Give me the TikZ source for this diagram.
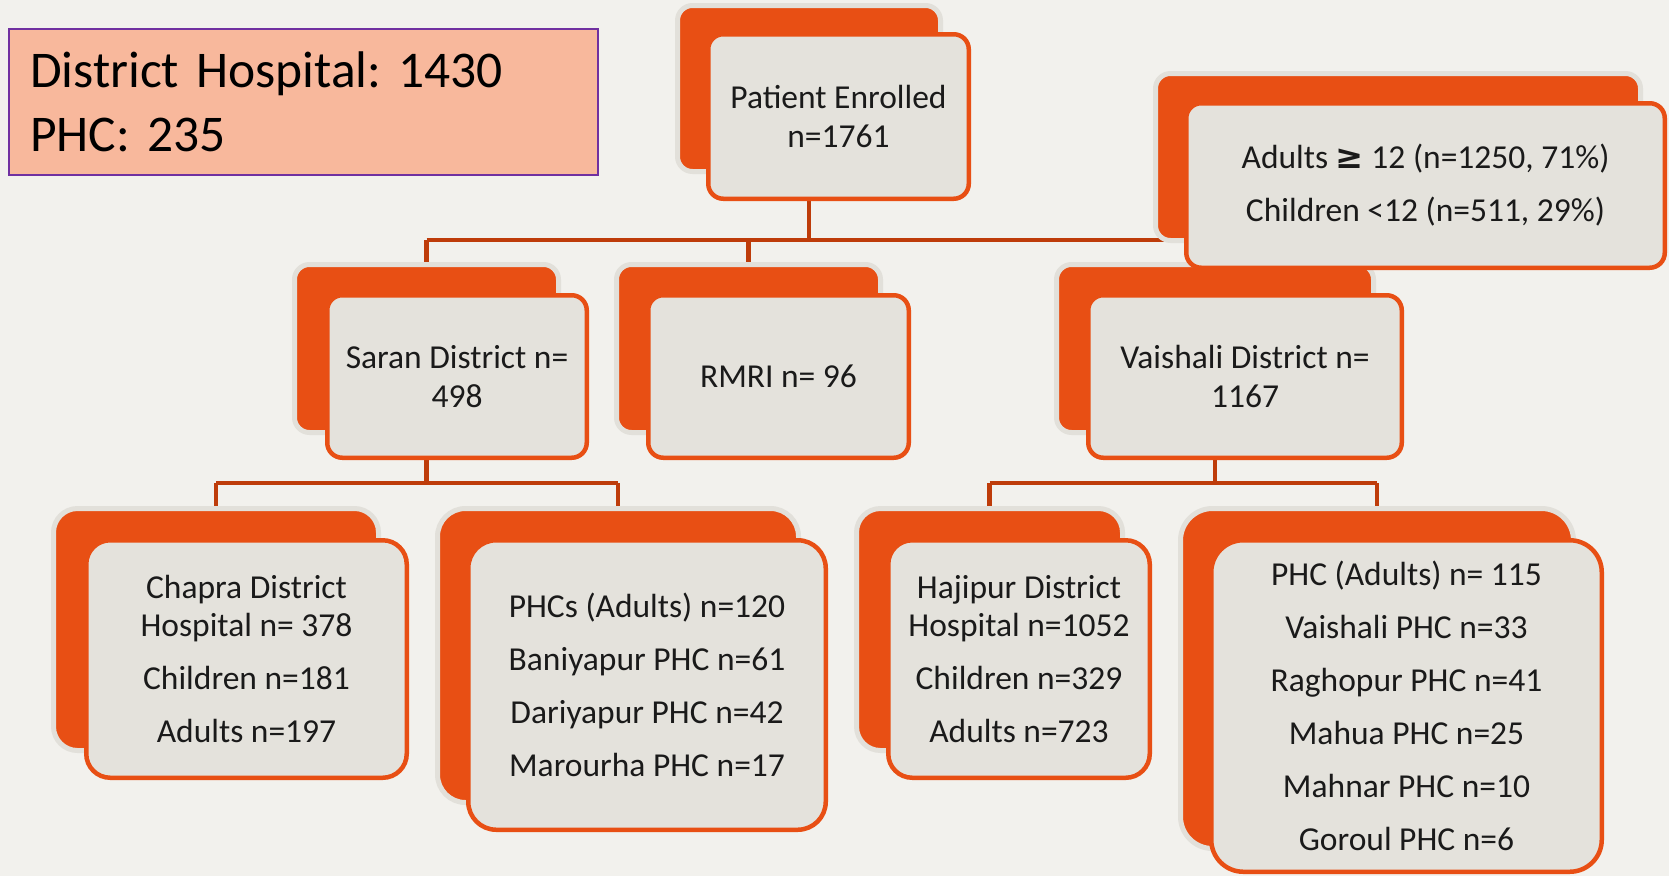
\documentclass[tikz,border=0pt]{standalone}
\usepackage{fontspec}
\setmainfont{Carlito}
\newfontfamily\symfont{DejaVu Sans}
\frenchspacing
\pgfdeclarelayer{bg}
\pgfsetlayers{bg,main}
\definecolor{bgcol}{HTML}{F2F1ED}
\definecolor{boxfill}{HTML}{E4E2DC}
\definecolor{orng}{HTML}{E84F14}
\definecolor{halo}{HTML}{E2E0DA}
\definecolor{conncol}{HTML}{BE3C0A}
\definecolor{salmon}{HTML}{F8B89C}
\definecolor{purp}{HTML}{7030A0}
\definecolor{txt}{HTML}{1A1A1A}
\tikzset{
  backbox/.style={rectangle, fill=orng, draw=halo, line width=5pt, inner sep=0pt, outer sep=0pt},
  frontbox/.style={rectangle, fill=boxfill, draw=orng, line width=4.5pt, inner sep=0pt, outer sep=0pt,
    align=center, text=txt, font=\fontsize{33.5}{38.5}\selectfont\frenchspacing},
  conn/.style={draw=conncol, line width=4.5pt},
  summarybox/.style={rectangle, fill=salmon, draw=purp, line width=2pt, inner xsep=21.5pt, inner ysep=0pt,
    outer sep=0pt, text width=546.5pt, align=left, minimum height=146pt, text=black,
    font=\fontsize{51.5}{64}\selectfont\frenchspacing}
}
\begin{document}
\begin{tikzpicture}[x=1pt,y=-1pt]
\useasboundingbox (0,0) rectangle (1669,876);

% summary
\node[summarybox] (sum) at (303.25,101.65) {District Hospital: 1430\\PHC: 235};

% level 0
\node[backbox, minimum width=263pt, minimum height=166pt, rounded corners=15pt] (peB) at (809,88.5) {};
\node[frontbox, minimum width=260.5pt, minimum height=164.5pt, rounded corners=15pt] (pe) at (838.5,116.5) {Patient Enrolled\\n=1761};

% level 1
\node[backbox, minimum width=264pt, minimum height=168pt, rounded corners=15pt] (saranB) at (426.5,348.5) {};
\node[frontbox, minimum width=259.5pt, minimum height=162.5pt, rounded corners=15pt] (saran) at (457,376.5) {Saran District n=\\498};

\node[backbox, minimum width=264pt, minimum height=168pt, rounded corners=15pt] (rmriB) at (748.5,348.5) {};
\node[frontbox, minimum width=260.5pt, minimum height=162.5pt, rounded corners=15pt] (rmri) at (778.5,376.5) {RMRI n= 96};

\node[backbox, minimum width=317pt, minimum height=168pt, rounded corners=15pt] (vaisB) at (1215,348.5) {};
\node[frontbox, minimum width=313.5pt, minimum height=162.5pt, rounded corners=15pt] (vais) at (1245,376.5) {Vaishali District n=\\1167};

% age box
\node[backbox, minimum width=485pt, minimum height=167pt, rounded corners=15pt] (ageB) at (1398,157) {};
\node[frontbox, minimum width=478.5pt, minimum height=164.5pt, rounded corners=15pt] (age) at (1425.5,185.5) {Adults {\symfont\bfseries ≥} 12 (n=1250, 71\%)\\[14.5pt]Children <12 (n=511, 29\%)};

% level 2
\node[backbox, minimum width=325pt, minimum height=242pt, rounded corners=24pt] (chapB) at (216,629.5) {};
\node[frontbox, minimum width=320.5pt, minimum height=237.5pt, rounded corners=24pt] (chap) at (246.5,659) {Chapra District\\Hospital n= 378\\[14.5pt]Children n=181\\[14.5pt]Adults n=197};

\node[backbox, minimum width=361pt, minimum height=294pt, rounded corners=28pt] (sphcB) at (618,655.5) {};
\node[frontbox, minimum width=357.5pt, minimum height=289.5pt, rounded corners=28pt] (sphc) at (647,685) {PHCs (Adults) n=120\\[14.5pt]Baniyapur PHC n=61\\[14.5pt]Dariyapur PHC n=42\\[14.5pt]Marourha PHC n=17};

\node[backbox, minimum width=266pt, minimum height=242pt, rounded corners=24pt] (hajB) at (989.5,629.5) {};
\node[frontbox, minimum width=261.5pt, minimum height=237.5pt, rounded corners=24pt] (haj) at (1019,659) {Hajipur District\\Hospital n=1052\\[14.5pt]Children n=329\\[14.5pt]Adults n=723};

\node[backbox, minimum width=393pt, minimum height=340pt, rounded corners=32pt] (vphcB) at (1377,678.5) {};
\node[frontbox, minimum width=390.5pt, minimum height=331.5pt, rounded corners=32pt] (vphc) at (1406.5,706) {PHC (Adults) n= 115\\[14.5pt]Vaishali PHC n=33\\[14.5pt]Raghopur PHC n=41\\[14.5pt]Mahua PHC n=25\\[14.5pt]Mahnar PHC n=10\\[14.5pt]Goroul PHC n=6};

\coordinate (bus1) at (0,240);
\coordinate (bus2) at (0,483);

\begin{pgfonlayer}{bg}
\fill[bgcol] (0,0) rectangle (1669,876);
% level 0 -> 1
\draw[conn] (peB.center |- pe.south) -- (peB.center |- bus1);
\draw[conn] (saranB.north |- bus1) -- (vaisB.north |- bus1);
\draw[conn] (saranB.north |- bus1) -- (saranB.north);
\draw[conn] (rmriB.north |- bus1) -- (rmriB.north);
\draw[conn] (vaisB.north |- bus1) -- (vaisB.north);
% Saran -> children
\draw[conn] (saranB.center |- saran.south) -- (saranB.center |- bus2);
\draw[conn] (chapB.north |- bus2) -- (sphcB.north |- bus2);
\draw[conn] (chapB.north |- bus2) -- (chapB.north);
\draw[conn] (sphcB.north |- bus2) -- (sphcB.north);
% Vaishali -> children
\draw[conn] (vaisB.center |- vais.south) -- (vaisB.center |- bus2);
\draw[conn] (hajB.north |- bus2) -- (vphcB.north |- bus2);
\draw[conn] (hajB.north |- bus2) -- (hajB.north);
\draw[conn] (vphcB.north |- bus2) -- (vphcB.north);
\end{pgfonlayer}
\end{tikzpicture}
\end{document}
